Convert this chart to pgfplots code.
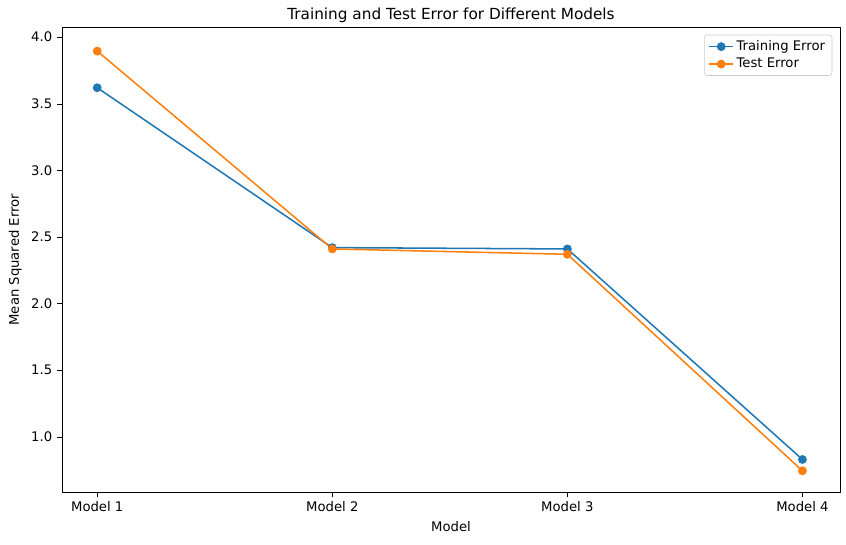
\documentclass[border=0pt]{standalone}
\usepackage{pgfplots}
\pgfplotsset{compat=1.18}
\usepackage{fontspec}
\setmainfont{DejaVu Sans}
\definecolor{c0}{HTML}{1F77B4}
\definecolor{c1}{HTML}{FF7F0E}
\begin{document}
\begin{tikzpicture}
\begin{axis}[
  scale only axis, width=560pt, height=334pt,
  xmin=-0.15, xmax=3.16, ymin=0.587, ymax=4.07,
  xtick={0,1,2,3}, xticklabels={Model 1,Model 2,Model 3,Model 4},
  ytick={1.0,1.5,2.0,2.5,3.0,3.5,4.0},
  yticklabel style={/pgf/number format/fixed,/pgf/number format/fixed zerofill,/pgf/number format/precision=1},
  /pgf/number format/assume math mode=true,
  tick style={black}, tick align=outside, major tick length=3.5pt,
  xtick pos=bottom, ytick pos=left,
  font=\fontsize{9.5}{11}\selectfont,
  title={\fontsize{11}{13}\selectfont Training and Test Error for Different Models},
  title style={yshift=-6pt},
  xlabel={Model}, ylabel={Mean Squared Error},
  legend style={at={(0.99,0.985)}, anchor=north east, draw=black!20, rounded corners=2pt, font=\fontsize{9.5}{11}\selectfont, cells={anchor=west}},
  legend cell align=left,
]
\addplot[c0, line width=1.1pt, mark=*, mark size=2.6pt] coordinates {(0,3.62) (1,2.42) (2,2.41) (3,0.83)};
\addlegendentry{Training Error}
\addplot[c1, line width=1.1pt, mark=*, mark size=2.6pt] coordinates {(0,3.895) (1,2.41) (2,2.37) (3,0.745)};
\addlegendentry{Test Error}
\end{axis}
\pgfresetboundingbox
\path[use as bounding box] ([shift={(-44.6pt,-38pt)}]current axis.south west) rectangle ([shift={(4.3pt,20pt)}]current axis.north east);
\end{tikzpicture}
\end{document}
